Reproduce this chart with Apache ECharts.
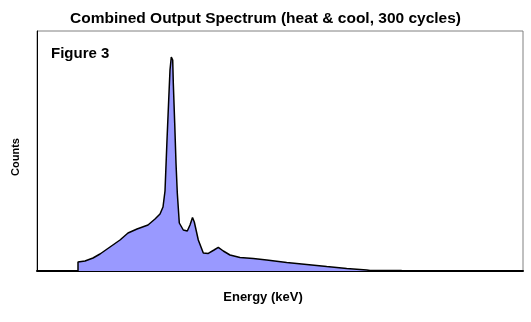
<!DOCTYPE html>
<html>
<head>
<meta charset="utf-8">
<script src="https://cdn.jsdelivr.net/npm/echarts@6/dist/echarts.min.js"></script>
<style>
  html, body { margin: 0; padding: 0; background: #ffffff; }
  #chart { width: 531px; height: 322px; }
</style>
</head>
<body>
<div id="chart"></div>
<script>
// Combined output spectrum: detector channel vs. counts
const channels = [41, 41, 48, 56, 63, 73, 83, 91, 100, 111, 118, 123, 126, 128, 130, 131.7, 133, 134.3, 135.7, 136.3, 137.7, 139, 140.3, 142.3, 146.3, 150.3, 153, 155.5, 157.3, 161.3, 166.3, 171.3, 177, 181.3, 186.3, 193, 203, 216.3, 229.7, 249.7, 269.7, 289.7, 309.7, 329.7, 333, 364.7, 365];
const counts = [0, 45, 50, 65, 85, 120, 155, 190, 210, 230, 260, 285, 320, 400, 655, 855, 1005, 1070, 1055, 940, 740, 540, 390, 240, 205, 200, 230, 268, 245, 155, 90, 88, 105, 118, 100, 80, 68, 62, 55, 43, 33, 22, 13, 5, 2, 2, 0];

const titleText = 'Combined Output Spectrum (heat & cool, 300 cycles)';
const figureLabel = 'Figure 3';
const xAxisName = 'Energy (keV)';
const yAxisName = 'Counts';

const chart = echarts.init(document.getElementById('chart'), null, { renderer: 'canvas' });

const FONT = '"Liberation Sans", Arial, sans-serif';

chart.setOption({
  animation: false,
  backgroundColor: '#ffffff',
  title: [
    {
      text: titleText,
      left: 'center',
      top: 6,
      textStyle: { fontFamily: FONT, fontSize: 15.5, fontWeight: 'bold', color: '#000' }
    },
    {
      text: figureLabel,
      left: 46,
      top: 41,
      textStyle: { fontFamily: FONT, fontSize: 15, fontWeight: 'bold', color: '#000' }
    }
  ],
  graphic: [
    {
      type: 'text',
      x: 263, y: 297,
      style: {
        text: xAxisName, fill: '#000',
        font: 'bold 13px ' + FONT,
        align: 'center', verticalAlign: 'middle'
      }
    },
    {
      type: 'text',
      x: 16, y: 157,
      rotation: Math.PI / 2,
      style: {
        text: yAxisName, fill: '#000',
        font: 'bold 11px ' + FONT,
        align: 'center', verticalAlign: 'middle'
      }
    }
  ],
  grid: {
    left: 37, right: 8, top: 31, bottom: 51,
    show: true,
    borderColor: '#808080',
    borderWidth: 1,
    backgroundColor: 'transparent'
  },
  xAxis: {
    type: 'value',
    min: 0,
    max: 486,
    axisLine: { show: true, lineStyle: { color: '#000', width: 2 } },
    axisTick: { show: false },
    axisLabel: { show: false },
    splitLine: { show: false }
  },
  yAxis: {
    type: 'value',
    min: 0,
    max: 1200,
    axisLine: { show: true, lineStyle: { color: '#000', width: 1 } },
    axisTick: { show: false },
    axisLabel: { show: false },
    splitLine: { show: false }
  },
  series: [{
    type: 'line',
    data: channels.map((c, i) => [c, counts[i]]),
    symbol: 'none',
    smooth: false,
    lineStyle: { color: '#000', width: 1.5 },
    areaStyle: { color: '#9999ff', opacity: 1 },
    z: 1
  }]
});
</script>
</body>
</html>
